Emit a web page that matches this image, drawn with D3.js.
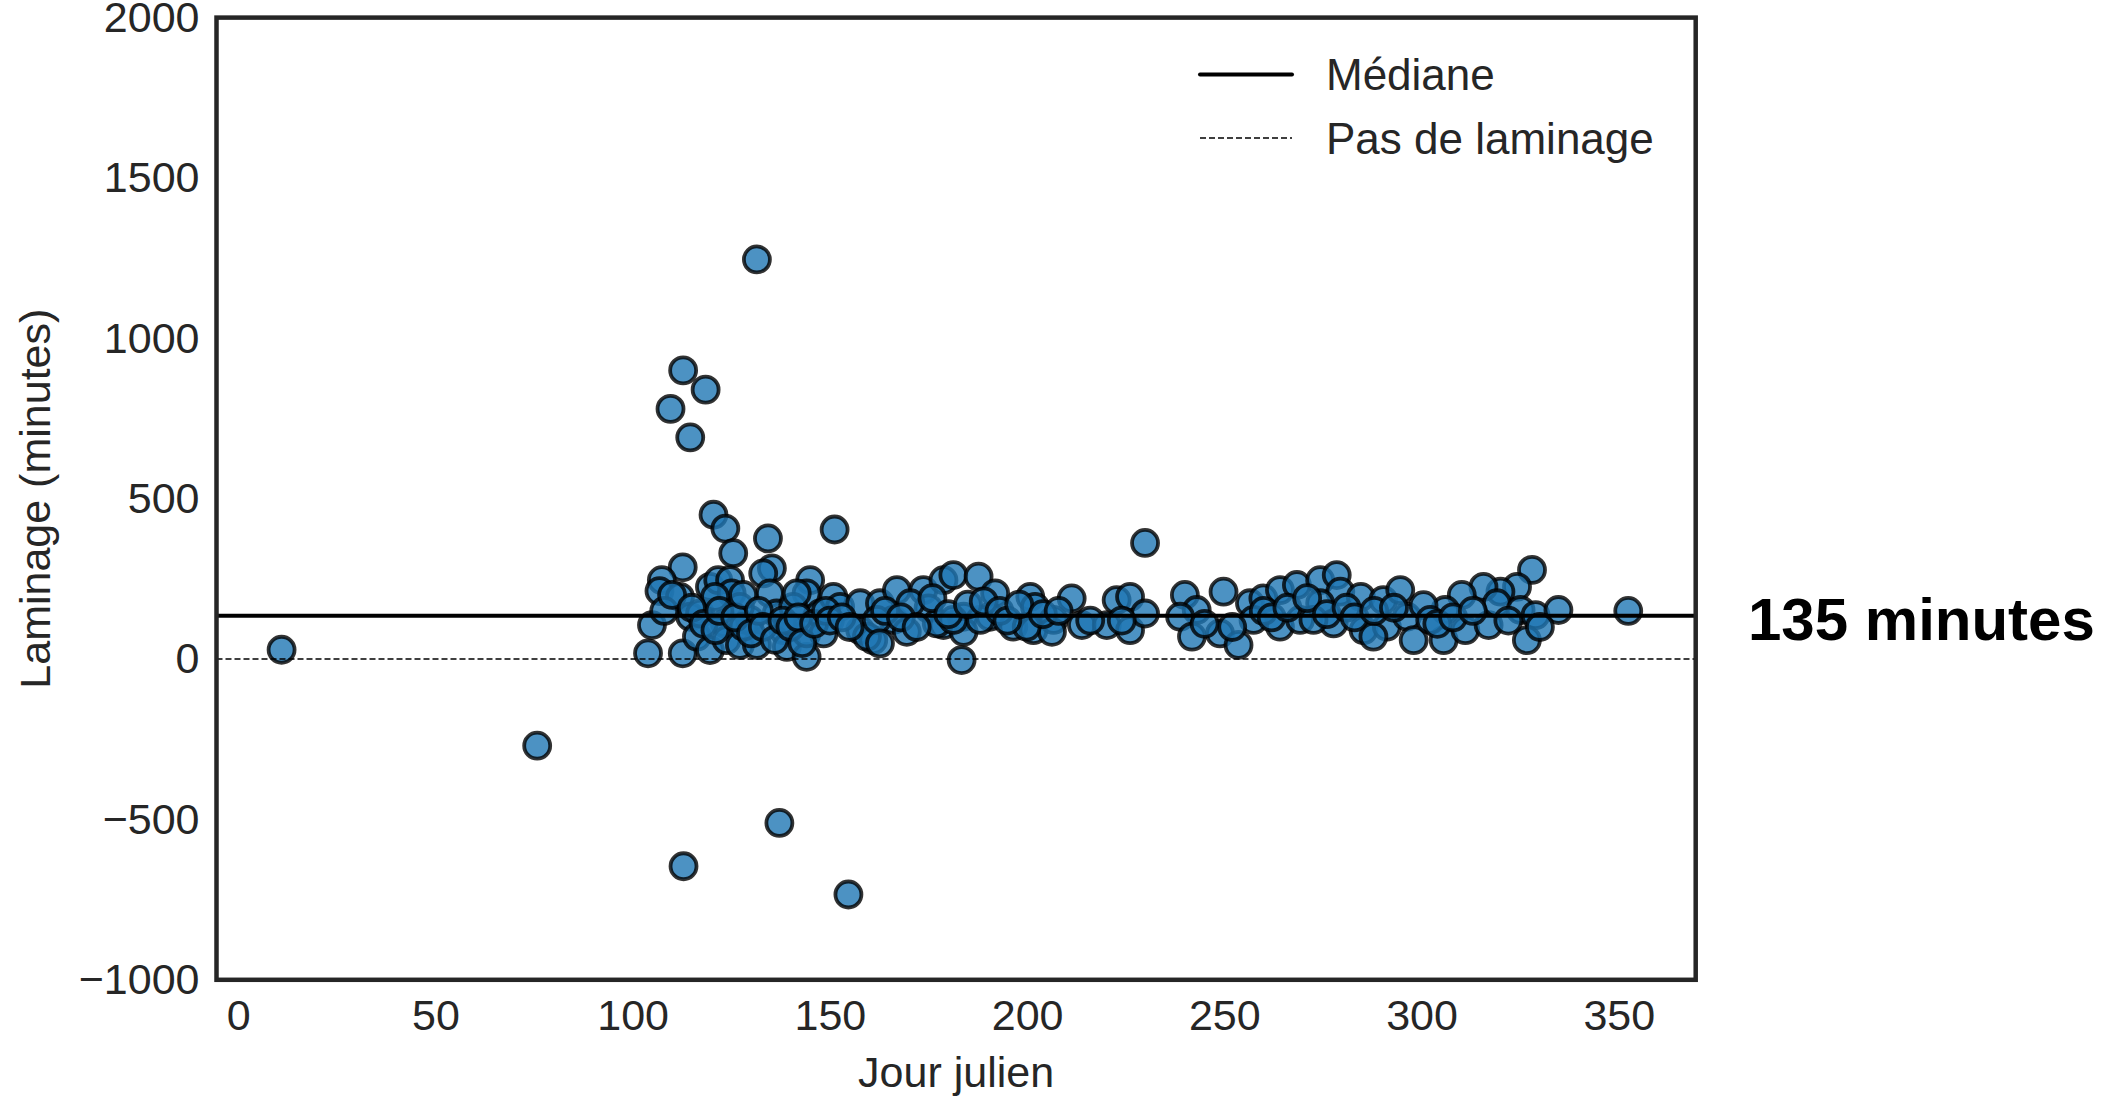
<!DOCTYPE html>
<html>
<head>
<meta charset="utf-8">
<script src="https://cdn.jsdelivr.net/npm/d3@7"></script>
<style>
    body { margin: 0; background: #fff; }
    text { font-family: "Liberation Sans", Arial, sans-serif; }
</style>
</head>
<body>
<div id="chart"></div>
<script>
// values: julian day and lamination (minutes)
const days = [
    11, 75.8, 112.9, 137.2, 154.7, 131.5, 112.8, 109.6, 118.5, 114.6, 229.9, 352.4,
    120.5, 123.5, 125.5, 134.3, 151.2,
    112.7, 107.4, 106.8, 112, 119.6, 121.7, 124.7, 125.1, 135.3, 133.1, 134.8, 145, 144.1,
    104.9, 103.9, 112.7, 114.6, 116.3, 119.6, 123.4, 123.8, 127.2, 129.8, 131.5, 136.5,
    138.2, 139.1, 144.1, 144.1, 147.5, 148.4, 150.9, 152.6, 157.7, 157.7, 161, 140.7,
    141.6, 117.1, 120.9, 127.2, 128.1, 159.4, 162.7,
    167, 166.1, 161.9, 162.7, 169.5, 173.7, 175, 178.8, 181.3, 178.8, 183.9, 183.9,
    183.4, 187.7, 191.9, 190.6, 196.5, 200.8, 202, 201.6, 206.7, 206.3, 211.3, 213.9,
    220.2, 222.7, 226.1, 226.1, 229.9, 170.4, 177.1, 181.3, 188.1, 199.9,
    240, 243, 238.8, 241.8, 249.8, 248.9, 253.6, 256.5, 259.9, 257.4, 264.1, 268.4,
    264.1, 269.2, 274.3, 278.5, 279.4, 274.3, 277.7, 284.6, 290.3, 285.3, 291.2, 294.6,
    296.3, 298, 287.8, 272.6,
    328, 324.2, 320, 315.7, 310.2, 306, 300.5, 305.6, 311.1, 317, 319.1, 325.1,
    328.9, 326.7, 334.7, 302.2,
    108, 110, 115, 118, 121, 122, 126, 128, 130, 132, 133, 136, 138, 140, 142, 143,
    146, 149, 150, 153, 155,
    164, 168, 172, 176, 180, 185, 189, 193, 195, 198, 204, 208, 216, 224,
    245, 252, 260, 262, 266, 271, 276, 281, 283, 288, 293,
    304, 308, 313, 322, 330
];
const minutes = [
    29, -270, -646, -511, -734, 1246, 900, 780, 840, 691, 362, 150,
    450, 407, 330, 376, 404,
    286, 246, 212, 194, 225, 246, 246, 205, 283, 267, 205, 246, 205,
    106, 18, 18, 132, 70, 28, 111, 59, 44, 122, 44, 142,
    90, 38, 7, 80, 142, 80, 194, 163, 174, 90, 59, 163,
    205, 142, 194, 163, 101, 70, 174,
    215, 122, 122, 49, 85, 215, 158, 246, 262, 106, 132, 85,
    -3, 257, 205, 132, 101, 194, 163, 90, 122, 85, 189, 106,
    106, 184, 194, 90, 142, 174, 111, 122, 122, 101,
    200, 153, 132, 70, 210, 80, 44, 174, 189, 122, 215, 231,
    101, 122, 246, 262, 210, 174, 111, 194, 184, 90, 101, 215,
    132, 59, 70, 122,
    278, 225, 210, 225, 200, 153, 168, 59, 90, 106, 174, 153,
    137, 59, 153, 122,
    150, 200, 160, 110, 90, 150, 130, 200, 80, 150, 100, 60, 120, 100, 130, 50,
    110, 150, 120, 130, 100,
    150, 130, 100, 190, 140, 170, 180, 150, 120, 170, 140, 150, 120, 120,
    110, 100, 150, 130, 160, 190, 140, 160, 130, 150, 160,
    110, 130, 150, 120, 100
];
const xTicks = [0, 50, 100, 150, 200, 250, 300, 350];
const yTicks = [-1000, -500, 0, 500, 1000, 1500, 2000];
const median = 135;
const noLamination = 0;
const legendLabels = ['Médiane', 'Pas de laminage'];
const medianLabel = '135 minutes';
const xLabel = 'Jour julien';
const yLabel = 'Laminage (minutes)';

const W = 2122, H = 1099;
const plotLeft = 216.5, plotRight = 1695.7, plotTop = 17.6, plotBottom = 979.8;
const ink = '#262626';

let svg = d3.select('#chart').append('svg')
    .attr('width', W)
    .attr('height', H)
    .attr('viewBox', [0, 0, W, H]);

svg.append('rect').attr('width', W).attr('height', H).attr('fill', '#fff');

let x = d3.scaleLinear([-5.5, 369.5], [plotLeft, plotRight]);
let y = d3.scaleLinear([-1000, 2000], [plotBottom, plotTop]);

// axes (no tick marks, seaborn-white look)
let xAxis = svg.append('g')
    .attr('transform', `translate(0,${plotBottom})`)
    .call(d3.axisBottom(x).tickValues(xTicks).tickSize(0).tickPadding(20).tickFormat(d3.format('d')));
let yAxis = svg.append('g')
    .attr('transform', `translate(${plotLeft},0)`)
    .call(d3.axisLeft(y).tickValues(yTicks).tickSize(0).tickPadding(17).tickFormat(d3.format('d')));
[xAxis, yAxis].forEach(a => {
    a.select('.domain').remove();
    a.attr('font-family', '"Liberation Sans", Arial, sans-serif')
        .attr('font-size', 43);
    a.selectAll('text').attr('fill', ink);
});

svg.append('text')
    .attr('x', (plotLeft + plotRight) / 2)
    .attr('y', 1087)
    .attr('text-anchor', 'middle')
    .attr('font-size', 43)
    .attr('fill', ink)
    .text(xLabel);

svg.append('text')
    .attr('transform', `translate(50,${(plotTop + plotBottom) / 2}) rotate(-90)`)
    .attr('text-anchor', 'middle')
    .attr('font-size', 43)
    .attr('fill', ink)
    .text(yLabel);

// points
let pts = d3.zip(days, minutes);
svg.append('g')
    .selectAll('circle')
    .data(pts)
    .join('circle')
    .attr('cx', d => x(d[0]))
    .attr('cy', d => y(d[1]))
    .attr('r', 13)
    .attr('fill', '#1f77b4')
    .attr('fill-opacity', 0.8)
    .attr('stroke', '#000')
    .attr('stroke-opacity', 0.8)
    .attr('stroke-width', 3.8);

// reference lines
svg.append('line')
    .attr('x1', plotLeft).attr('x2', plotRight)
    .attr('y1', y(noLamination)).attr('y2', y(noLamination))
    .attr('stroke', '#000')
    .attr('stroke-width', 1.6)
    .attr('stroke-dasharray', '6,3');
svg.append('line')
    .attr('x1', plotLeft).attr('x2', plotRight)
    .attr('y1', y(median)).attr('y2', y(median))
    .attr('stroke', '#000')
    .attr('stroke-width', 4);

// frame
svg.append('rect')
    .attr('x', plotLeft).attr('y', plotTop)
    .attr('width', plotRight - plotLeft).attr('height', plotBottom - plotTop)
    .attr('fill', 'none')
    .attr('stroke', ink)
    .attr('stroke-width', 4.5);

// legend
let legend = svg.append('g');
let legendRows = [
    {label: legendLabels[0], y: 74.4, width: 4, dash: null},
    {label: legendLabels[1], y: 138, width: 1.6, dash: '6,3'}
];
legendRows.forEach(r => {
    legend.append('line')
        .attr('x1', 1200).attr('x2', 1292)
        .attr('y1', r.y).attr('y2', r.y)
        .attr('stroke', '#000')
        .attr('stroke-width', r.width)
        .attr('stroke-linecap', r.dash ? 'butt' : 'round')
        .attr('stroke-dasharray', r.dash);
    legend.append('text')
        .attr('x', 1326)
        .attr('y', r.y)
        .attr('dy', '0.36em')
        .attr('font-size', 44)
        .attr('fill', ink)
        .text(r.label);
});

// annotation next to the median line
svg.append('text')
    .attr('x', 1748)
    .attr('y', 640)
    .attr('font-family', 'Lato, "Open Sans", sans-serif')
    .attr('font-weight', 'bold')
    .attr('font-size', 60)
    .attr('fill', '#000')
    .text(medianLabel);
</script>
</body>
</html>
